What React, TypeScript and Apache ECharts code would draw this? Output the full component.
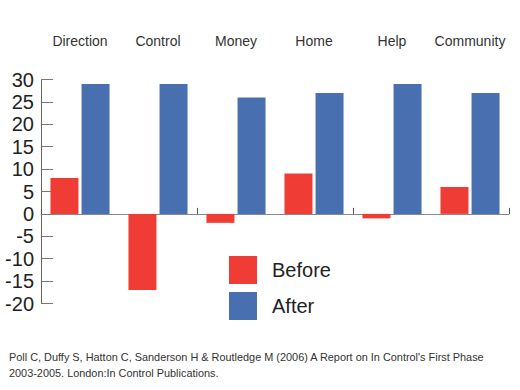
import React, { useEffect, useRef } from "react";
import * as echarts from "echarts";

const categories = ["Direction", "Control", "Money", "Home", "Help", "Community"];
const beforeValues = [8, -17, -2, 9, -1, 6];
const afterValues = [29, 29, 26, 27, 29, 27];
const yTicks = { min: -20, max: 30, interval: 5 };
const footerLines = [
  "Poll C, Duffy S, Hatton C, Sanderson H & Routledge M (2006) A Report on In Control's First Phase",
  "2003-2005. London:In Control Publications.",
];

const FONT = "Liberation Sans, Arial, Helvetica, sans-serif";

export default function App() {
  const ref = useRef<HTMLDivElement>(null);
  useEffect(() => {
    if (!ref.current) return;
    const chart = echarts.init(ref.current, undefined, { renderer: "svg" });
    chart.setOption({
      animation: false,
      backgroundColor: "#ffffff",
      textStyle: { fontFamily: FONT },
      title: {
        text: footerLines.join("\n"),
        left: 9,
        top: 349,
        padding: 0,
        textStyle: { fontSize: 10.9, fontWeight: "normal", color: "#333", lineHeight: 16, fontFamily: FONT },
      },
      legend: {
        orient: "vertical",
        left: 229,
        top: 256,
        padding: 0,
        itemWidth: 28,
        itemHeight: 28,
        itemGap: 8,
        icon: "rect",
        data: ["Before", "After"],
        textStyle: { fontSize: 20, color: "#222", padding: [0, 0, 0, 10], fontFamily: FONT },
      },
      grid: { left: 41, right: 11, top: 79.5, bottom: 86.5, containLabel: false },
      xAxis: [
        {
          type: "category",
          data: categories,
          axisLine: { onZero: true, lineStyle: { color: "#888", width: 1 } },
          axisTick: { show: true, inside: true, length: 6, lineStyle: { color: "#555" } },
          axisLabel: { show: false },
          splitLine: { show: false },
        },
        {
          type: "category",
          data: categories,
          position: "top",
          axisLine: { show: false, onZero: false },
          axisTick: { show: false },
          axisLabel: { show: true, interval: 0, margin: 32, fontSize: 14, color: "#333", fontFamily: FONT },
          splitLine: { show: false },
        },
      ],
      yAxis: {
        type: "value",
        min: yTicks.min,
        max: yTicks.max,
        interval: yTicks.interval,
        axisLine: { show: true, lineStyle: { color: "#666", width: 1 } },
        axisTick: { show: true, inside: true, length: 12, lineStyle: { color: "#777" } },
        axisLabel: { fontSize: 20, color: "#222", margin: 7, fontFamily: FONT },
        splitLine: { show: false },
      },
      series: [
        {
          name: "Before",
          type: "bar",
          data: beforeValues,
          barWidth: 28,
          barGap: "11%",
          itemStyle: { color: "#ef3d35" },
        },
        {
          name: "After",
          type: "bar",
          data: afterValues,
          barWidth: 28,
          barGap: "11%",
          itemStyle: { color: "#4870b0" },
        },
      ],
    });
    return () => chart.dispose();
  }, []);
  return <div ref={ref} style={{ width: 520, height: 390, position: "absolute", left: 0, top: 0 }} />;
}
